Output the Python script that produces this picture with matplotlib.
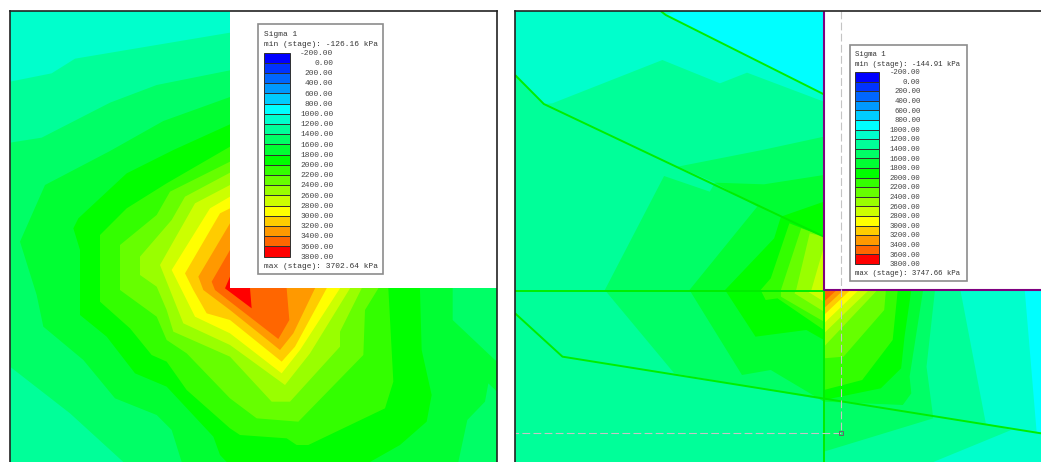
import matplotlib
matplotlib.use("Agg")
import matplotlib.pyplot as plt
from matplotlib.patches import Rectangle

# Contour scale
level_values = [-200, 0, 200, 400, 600, 800, 1000, 1200, 1400, 1600, 1800, 2000, 2200,
                2400, 2600, 2800, 3000, 3200, 3400, 3600, 3800]
band_colors = ["#0000ff", "#0033ff", "#0066ff", "#0099ff", "#00ccff", "#00ffff", "#00ffcc",
               "#00ff99", "#00ff66", "#00ff33", "#00ff00", "#33ff00", "#66ff00", "#99ff00",
               "#ccff00", "#ffff00", "#ffcc00", "#ff9900", "#ff6600", "#ff0000"]
title_text = "Sigma 1"
left_min, left_max = "-126.16", "3702.64"
right_min, right_max = "-144.91", "3747.66"

# Left panel: stress contour outlines (band index, outline)
left_bands = [
    (7, [(30,245),(155,220),(225,176),(690,98),(1491,98),(1491,1386),(30,1386)]),
    (8, [(30,428),(125,413),(330,308),(470,255),(690,211),(1491,211),(1491,1386),(370,1386),(210,1240),(30,1100)]),
    (9, [(690,291),(490,363),(330,453),(135,555),(60,725),(110,885),(130,980),(250,1080),(345,1195),
         (470,1245),(515,1290),(545,1386),(1375,1386),(1402,1260),(1455,1205),(1465,1150),(1491,1175),
         (1491,1083),(1485,1080),(1358,960),(1358,291)]),
    (10, [(690,373),(520,450),(380,520),(235,655),(220,685),(240,750),(240,945),(320,1010),(405,1120),
          (500,1160),(640,1310),(660,1365),(680,1386),(1110,1386),(1200,1335),(1280,1265),(1295,1185),
          (1265,1050),(1260,870),(1260,373)]),
    (11, [(690,440),(500,550),(380,625),(300,705),(300,905),(390,985),(455,1065),(500,1085),(560,1170),
          (690,1285),(720,1305),(860,1315),(890,1335),(925,1335),(1155,1225),(1180,1145),(1165,865),(1165,440)]),
    (12, [(690,485),(510,575),(470,645),(360,735),(360,870),(470,950),(500,1020),(560,1060),(690,1195),
          (770,1255),(895,1265),(1090,1065),(1095,930),(1135,865),(1135,485)]),
    (13, [(690,518),(555,590),(515,660),(420,770),(420,825),(470,860),(500,930),(520,995),(690,1070),
          (815,1205),(870,1205),(1020,1040),(1020,995),(1085,865),(1085,518)]),
    (14, [(690,555),(585,610),(480,795),(510,870),(550,970),(690,1035),(855,1155),(930,1060),(1050,865),(1050,555)]),
    (15, [(690,590),(630,625),(515,810),(545,870),(585,950),(690,1000),(845,1120),(900,1050),(1020,865),(1020,590)]),
    (16, [(690,625),(660,640),(555,820),(580,870),(620,940),(690,960),(845,1085),(885,1040),(980,865),(980,625)]),
    (17, [(690,670),(595,830),(610,870),(690,930),(840,1050),(880,1000),(945,865),(945,670)]),
    (18, [(690,750),(635,845),(645,870),(835,1017),(868,960),(860,865),(860,750)]),
    (19, [(690,830),(675,865),(755,925),(750,865),(750,830)]),
]

# Right panel, soil left of the wall (band index, outline)
right_west = [
    (6, [(15,33),(927,33),(927,305),(700,218),(620,250),(450,180),(125,310),(100,312),(15,225)]),
    (5, [(495,33),(927,33),(927,283),(460,45)]),
    (8, [(495,500),(745,450),(927,410),(927,1200),(485,1120),(280,870),(455,528),(590,575),(605,548)]),
    (9, [(605,548),(750,553),(927,525),(927,1205),(770,1110),(685,1125),(530,870),(730,620)]),
    (10, [(800,650),(927,605),(927,1020),(875,990),(725,1010),(635,870),(780,715)]),
    (11, [(825,670),(927,710),(927,990),(790,895),(755,900),(740,870),(770,835)]),
    (12, [(860,685),(927,710),(927,965),(800,890),(800,870)]),
    (13, [(885,700),(927,710),(927,935),(840,880),(845,870)]),
    (14, [(927,740),(927,905),(880,875),(890,870)]),
]

# Right panel, soil right of the wall (band index, outline)
right_east = [
    (6, [(927,870),(1568,870),(1568,1386),(927,1386)]),
    (5, [(1520,870),(1568,870),(1568,1297),(1555,1295)]),
    (7, [(927,870),(1330,870),(1405,1270),(1480,1290),(1250,1386),(927,1386)]),
    (8, [(927,870),(1255,870),(1230,1100),(1250,1255),(927,1355)]),
    (9, [(927,870),(1220,870),(1180,1130),(1185,1180),(1160,1215),(927,1205)]),
    (10, [(927,870),(1185,870),(1165,1010),(1155,1105),(1095,1165),(927,1200)]),
    (11, [(927,870),(1145,870),(1130,1020),(1040,1140),(927,1170)]),
    (12, [(927,870),(1110,870),(1105,930),(985,1070),(927,1075)]),
    (13, [(927,870),(1085,870),(927,1040)]),
    (14, [(927,870),(1060,870),(927,1000)]),
    (15, [(927,870),(1030,870),(927,970)]),
    (16, [(927,870),(1005,870),(927,945)]),
    (17, [(927,870),(985,870),(927,925)]),
    (18, [(927,870),(965,870),(927,905)]),
]

# Right panel: material boundary lines
boundary_lines = [
    [(445,33),(460,45),(927,283)],
    [(15,225),(100,312),(927,710)],
    [(15,872),(927,872)],
    [(15,940),(155,1070),(1568,1300)],
    [(927,872),(927,1386)],
]
query_x = [978, 978, 15]
query_y = [33, 1300, 1300]

fig = plt.figure(figsize=(10.41, 4.62), dpi=100, facecolor="white")
W, H = 1041, 462


def make_axes(x0, x1, y0, y1, xlim, ylim):
    ax = fig.add_axes([x0 / W, 1 - y1 / H, (x1 - x0) / W, (y1 - y0) / H])
    ax.set_xlim(*xlim)
    ax.set_ylim(*ylim)
    ax.set_xticks([])
    ax.set_yticks([])
    return ax


def draw_bands(ax, bands):
    for idx, outline in bands:
        xs, ys = zip(*outline)
        ax.fill(xs, ys, color=band_colors[idx], lw=0, zorder=2)


def legend(ax, box, sw_x, sw_y, label_x, step, fs, vmin, vmax, title_y, min_y, max_y):
    zt = 30
    ax.add_patch(Rectangle((box[0], box[1]), box[2] - box[0], box[3] - box[1], fc="white",
                           ec="#8c8c8c", lw=1.2, zorder=zt))
    for i, c in enumerate(band_colors):
        ax.add_patch(Rectangle((sw_x[0], sw_y + i * step), sw_x[1] - sw_x[0], step, fc=c,
                               ec="#303030", lw=0.7, zorder=zt + 1))
    for i, v in enumerate(level_values):
        ax.text(label_x, sw_y + i * step + 2, f"{v:.2f}", ha="right", va="center", fontsize=fs,
                family="Liberation Mono", color="#444444", zorder=zt + 2)
    kw = dict(ha="left", va="center", fontsize=fs, family="Liberation Mono", color="#333333", zorder=zt + 2)
    ax.text(sw_x[0], title_y, title_text, **kw)
    ax.text(sw_x[0], min_y, f"min (stage): {vmin} kPa", **kw)
    ax.text(sw_x[0], max_y, f"max (stage): {vmax} kPa", **kw)


def style_spines(ax, hidden):
    for s in ax.spines.values():
        s.set_color("#222222")
        s.set_linewidth(1.2)
        s.set_zorder(40)
    for name in hidden:
        ax.spines[name].set_visible(False)


# Left panel
axl = make_axes(10, 497, 11, 462, (30, 1491), (1386, 33))
axl.set_facecolor(band_colors[6])
draw_bands(axl, left_bands)
axl.add_patch(Rectangle((690, 33), 810, 832, fc="white", ec="none", zorder=20))
style_spines(axl, ["bottom"])
legend(axl, (774, 73, 1150, 823), (792, 870), 158, 1000, 30.6, 5.67, left_min, left_max, 102, 133, 800)

# Right panel
axr = make_axes(515, 1041, 11, 462, (14.8, 1568), (1386, 33))
axr.set_facecolor(band_colors[7])
draw_bands(axr, right_west)
draw_bands(axr, right_east)
axr.add_patch(Rectangle((927, 33), 700, 837, fc="white", ec="none", zorder=20))
for line in boundary_lines:
    xs, ys = zip(*line)
    axr.plot(xs, ys, color="#00ee00", lw=1.4, zorder=10, solid_capstyle="butt")
axr.plot([927, 927, 1568], [33, 870, 870], color="#800080", lw=1.5, zorder=25)
axr.plot(query_x, query_y, color="#c4c4c4", lw=0.8, ls=(0, (7, 3)), zorder=26)
axr.plot(query_x[1], query_y[1], marker="s", ms=2.5, mfc="none", mec="#666666", mew=0.7, zorder=27)
style_spines(axr, ["bottom", "right"])
legend(axr, (1003, 136, 1349, 842), (1019, 1091), 216, 1212, 28.8, 5.35, right_min, right_max, 163, 192, 820)

fig.savefig("out.png", dpi=100)
